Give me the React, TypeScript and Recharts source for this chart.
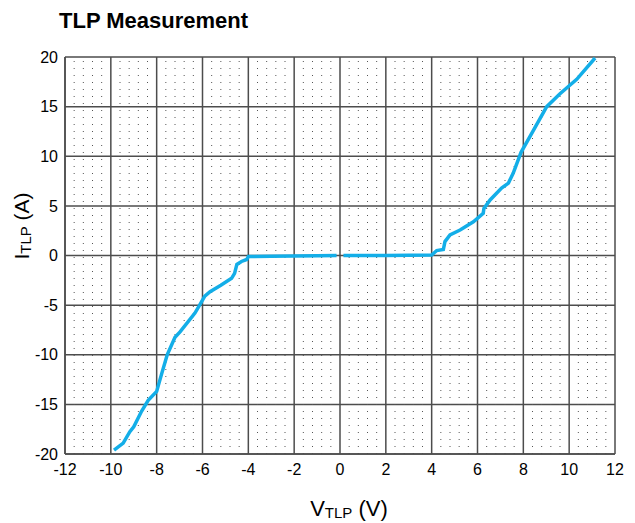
import { LineChart, Line, XAxis, YAxis, CartesianGrid, ReferenceLine, Label } from "recharts";

document.body.style.margin = "0";

const xTicks = [-12, -10, -8, -6, -4, -2, 0, 2, 4, 6, 8, 10, 12];
const yTicks = [-20, -15, -10, -5, 0, 5, 10, 15, 20];

// dotted minor lines every 0.4 V between the major ticks
const minorX: number[] = [];
for (let k = 0; k < xTicks.length - 1; k++) {
  for (let j = 1; j < 5; j++) minorX.push(Number((xTicks[k] + j * 0.4).toFixed(1)));
}

const negV = [-9.86, -9.46, -9.17, -9.0, -8.66, -8.37, -8.0, -7.78, -7.54, -7.2, -6.98, -6.33, -6.1, -5.9, -5.67, -5.2, -4.73, -4.6, -4.5, -4.3, -4.07, -4.0, -3.0, -2.0, -1.0, -0.15];
const negI = [-19.6, -18.9, -17.75, -17.25, -15.7, -14.6, -13.7, -11.9, -10.0, -8.24, -7.7, -5.8, -4.9, -4.1, -3.65, -3.0, -2.3, -1.8, -0.9, -0.6, -0.4, -0.1, -0.08, -0.05, -0.03, 0];

const posV = [0.15, 1, 2, 3, 4.0, 4.22, 4.51, 4.58, 4.8, 5.24, 5.82, 6.25, 6.28, 6.55, 7.05, 7.35, 7.56, 7.9, 8.44, 9.02, 9.6, 10.33, 11.13];
const posI = [0, 0, 0, 0.02, 0.05, 0.5, 0.6, 1.4, 2.07, 2.57, 3.4, 4.25, 4.75, 5.6, 6.8, 7.3, 8.3, 10.4, 12.6, 15.0, 16.3, 17.75, 19.9];

const negData = negV.map((v, k) => ({ v, i: negI[k] }));
const posData = posV.map((v, k) => ({ v, i: posI[k] }));

const FONT = "Liberation Sans, Arial, sans-serif";
const LINE = "#13aee8";
const GRID = "#4d4d4d";

function YTitle() {
  return (
    <text x={29} y={226} transform="rotate(-90, 29, 226)" textAnchor="middle" fontFamily={FONT} fontSize={21} fill="#000">
      <tspan>I</tspan>
      <tspan fontSize={15} dy={2}>TLP</tspan>
      <tspan dy={-2}> (A)</tspan>
    </text>
  );
}

function XTitle() {
  return (
    <text x={349} y={516} textAnchor="middle" fontFamily={FONT} fontSize={22} fill="#000">
      <tspan>V</tspan>
      <tspan fontSize={15} dy={2}>TLP</tspan>
      <tspan dy={-2}> (V)</tspan>
    </text>
  );
}

export default function App() {
  return (
    <div style={{ position: "relative", width: 635, height: 523, background: "#fff" }}>
      <div
        style={{
          position: "absolute",
          left: 59,
          top: 8,
          fontFamily: FONT,
          fontWeight: "bold",
          fontSize: 22,
          color: "#000",
        }}
      >
        TLP Measurement
      </div>
      <LineChart width={635} height={523} margin={{ top: 57, right: 20, bottom: 39, left: 0 }}>
        <CartesianGrid stroke={GRID} strokeWidth={1.5} />
        {minorX.map((m) => (
          <ReferenceLine key={m} x={m} stroke="#555" strokeWidth={1} strokeDasharray="1 6" ifOverflow="hidden" />
        ))}
        <XAxis
          type="number"
          dataKey="v"
          domain={[-12, 12]}
          ticks={xTicks}
          height={30}
          allowDataOverflow
          axisLine={{ stroke: GRID, strokeWidth: 1.5 }}
          tickLine={false}
          tickSize={0}
          tickMargin={10}
          tick={{ fill: "#000", fontSize: 16, fontFamily: FONT }}
        >
          <Label content={() => <XTitle />} />
        </XAxis>
        <YAxis
          type="number"
          domain={[-20, 20]}
          ticks={yTicks}
          width={65}
          allowDataOverflow
          axisLine={{ stroke: GRID, strokeWidth: 1.5 }}
          tickLine={false}
          tickSize={0}
          tickMargin={7}
          tick={{ fill: "#000", fontSize: 16, fontFamily: FONT }}
        >
          <Label content={() => <YTitle />} />
        </YAxis>
        <Line data={negData} dataKey="i" stroke={LINE} strokeWidth={3.5} dot={false} isAnimationActive={false} />
        <Line data={posData} dataKey="i" stroke={LINE} strokeWidth={3.5} dot={false} isAnimationActive={false} />
      </LineChart>
    </div>
  );
}
